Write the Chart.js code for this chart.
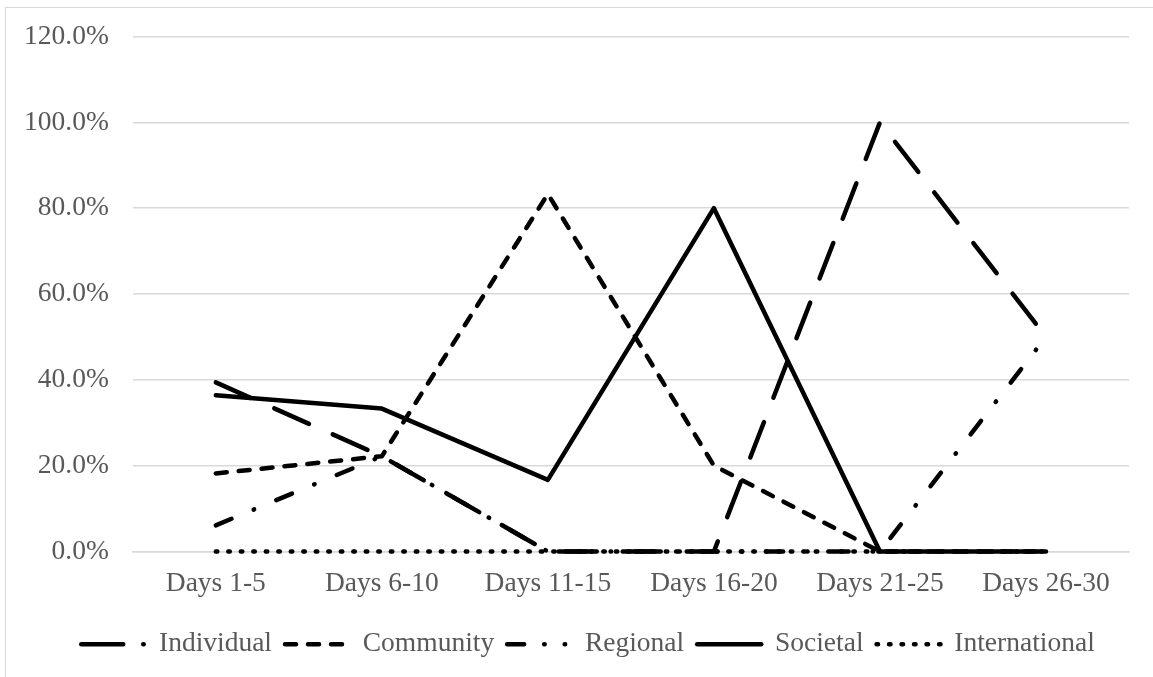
<!DOCTYPE html>
<html>
<head>
<meta charset="utf-8">
<script src="https://cdn.jsdelivr.net/npm/chart.js@4/dist/chart.umd.min.js"></script>
<style>
  body { margin: 0; background: #fff; overflow: hidden; }
  #marco { position: absolute; left: 5px; top: 7px; width: 1300px; height: 800px; border: 1.5px solid #d9d9d9; }
  #caja { position: absolute; left: 0; top: 0; width: 1153px; height: 677px; }
</style>
</head>
<body>
<div id="marco"></div>
<div id="caja"><canvas id="grafica"></canvas></div>
<script>
// categorias del eje x
const dias = ["Days 1-5", "Days 6-10", "Days 11-15", "Days 16-20", "Days 21-25", "Days 26-30"];

// porcentajes por serie
const individual    = [39.4, 22.2, 0, 0, 100, 50];
const community     = [18.2, 22.2, 83.3, 20, 0, 0];
const regional      = [6.1, 22.2, 0, 0, 0, 50];
const societal      = [36.4, 33.3, 16.7, 80, 0, 0];
const international = [0, 0, 0, 0, 0, 0];

// marcas del eje y
const marcasY = [0, 20, 40, 60, 80, 100, 120];

const fuente = { family: "'Liberation Serif', 'Times New Roman', serif", size: 27.5 };
const gris = "#595959";

// guiones de la muestra de la leyenda (como en Excel)
const guionesLeyenda = {
    "Individual": [42, 20, 0.5, 40],
    "Regional": [17, 20, 0.5, 20, 0.5, 40]
};

function serie(nombre, datos, guiones) {
    return {
        label: nombre,
        data: datos,
        borderColor: "#000",
        backgroundColor: "#000",
        borderWidth: 4.5,
        borderDash: guiones,
        borderCapStyle: "round",
        borderJoinStyle: "round",
        pointRadius: 0,
        tension: 0,
        fill: false,
        clip: 8
    };
}

// la leyenda de Excel va centrada en todo el lienzo, no en el area del grafico
const moverLeyenda = {
    id: "moverLeyenda",
    beforeDraw: function(chart) {
        chart.legend.left = 24;
        chart.legend.right = chart.width - 1;
    }
};

var grafica = document.getElementById("grafica");
var miGrafica = new Chart(grafica, {
    type: "line",
    data: {
        labels: dias,
        datasets: [
            serie("Individual", individual, [38, 26]),
            serie("Community", community, [11, 12]),
            serie("Regional", regional, [17, 24, 0.5, 24]),
            serie("Societal", societal, []),
            serie("International", international, [1.5, 11])
        ]
    },
    options: {
        responsive: true,
        maintainAspectRatio: false,
        animation: false,
        layout: { padding: { left: 0, right: 24, top: 13, bottom: 9 } },
        plugins: {
            tooltip: { enabled: false },
            legend: {
                position: "bottom",
                labels: {
                    usePointStyle: true,
                    pointStyle: "line",
                    pointStyleWidth: 64,
                    color: gris,
                    font: fuente,
                    padding: 13,
                    generateLabels: function(chart) {
                        const items = Chart.defaults.plugins.legend.labels.generateLabels(chart);
                        items.forEach(function(it) {
                            const ds = chart.data.datasets[it.datasetIndex];
                            it.lineDash = guionesLeyenda[ds.label] || ds.borderDash;
                            it.lineWidth = 4.5;
                            it.lineCap = "round";
                            it.strokeStyle = "#000";
                            it.fillStyle = "#000";
                        });
                        return items;
                    }
                }
            }
        },
        scales: {
            x: {
                offset: true,
                grid: { display: false },
                border: { color: "#d9d9d9", width: 1.5 },
                ticks: { color: gris, font: fuente, padding: 8, maxRotation: 0 },
                afterFit: function(eje) { eje.height += 9; }
            },
            y: {
                min: 0,
                max: 120,
                afterBuildTicks: function(eje) { eje.ticks = marcasY.map(v => ({ value: v })); },
                afterFit: function(eje) { eje.paddingTop = Math.max(0, eje.paddingTop - 4); },
                grid: { color: "#d9d9d9", lineWidth: 1.5, drawTicks: false },
                border: { display: false },
                ticks: {
                    color: gris,
                    font: fuente,
                    padding: 24,
                    callback: function(v) { return v.toFixed(1) + "%"; }
                }
            }
        }
    },
    plugins: [moverLeyenda]
});
</script>
</body>
</html>
